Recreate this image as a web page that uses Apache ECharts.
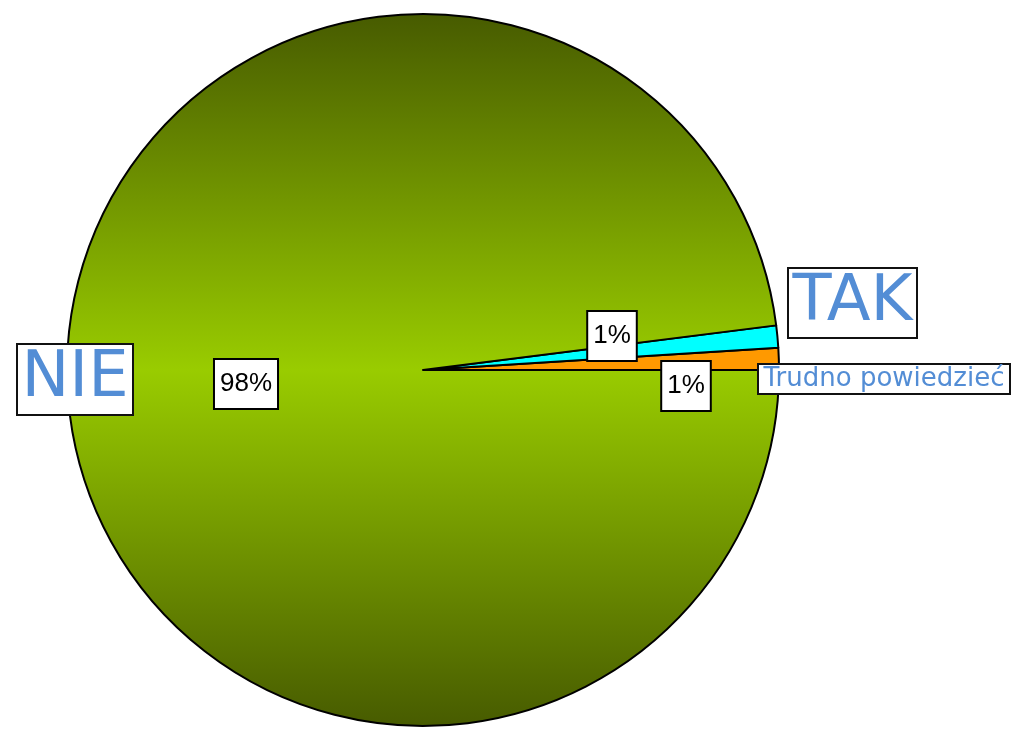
<!DOCTYPE html>
<html>
<head>
<meta charset="utf-8">
<script src="https://cdn.jsdelivr.net/npm/echarts@6/dist/echarts.min.js"></script>
<style>
  html, body { margin: 0; padding: 0; background: #fff; }
  #chart { width: 1012px; height: 733px; }
</style>
</head>
<body>
<div id="chart"></div>
<script>
// Answers, listed counter-clockwise from 3 o'clock
const categories = ['Trudno powiedzieć', 'TAK', 'NIE'];
const values = [1, 1, 98];
const sliceColors = ['#ff9900', '#00ffff', null];

// Pie geometry
const center = [423, 370];
const radius = 356;

// Green body of the pie: dark olive at the rim, bright lime across the middle
const limeGradient = new echarts.graphic.LinearGradient(0, 0, 0, 1, [
  { offset: 0, color: '#475b00' },
  { offset: 0.5, color: '#99cc00' },
  { offset: 1, color: '#475b00' }
]);

const pieData = categories.map((name, i) => ({
  name: name,
  value: values[i],
  itemStyle: { color: sliceColors[i] || limeGradient }
}));

// Where the percentage boxes sit (centre points)
const pctSpot = { 0: [686, 386], 1: [612, 336], 2: [246, 384] };

// Category name boxes: left, top, width, height, font size
const nameBox = [
  { box: [758, 364, 252, 30], size: 26 },
  { box: [788, 268, 129, 70], size: 64 },
  { box: [17, 344, 116, 71], size: 64 }
];

// Each name is a framed white box with the blue caption centred inside
const nameLabels = [];
categories.forEach((name, i) => {
  const [x, y, w, h] = nameBox[i].box;
  nameLabels.push({
    type: 'rect',
    z: 100,
    silent: true,
    shape: { x: x, y: y, width: w, height: h },
    style: { fill: '#fff', stroke: '#111', lineWidth: 2 }
  });
  nameLabels.push({
    type: 'text',
    z: 101,
    silent: true,
    x: x + w / 2,
    y: y + h / 2,
    style: {
      text: name,
      fontFamily: 'DejaVu Sans',
      fontSize: nameBox[i].size,
      fill: '#538dd5',
      align: 'center',
      verticalAlign: 'middle'
    }
  });
});

const chart = echarts.init(document.getElementById('chart'), null, { renderer: 'canvas' });

chart.setOption({
  animation: false,
  backgroundColor: '#ffffff',
  graphic: { elements: nameLabels },
  series: [
    {
      type: 'pie',
      center: center,
      radius: radius,
      startAngle: 0,
      clockwise: false,
      avoidLabelOverlap: false,
      silent: true,
      itemStyle: { borderColor: '#000', borderWidth: 2 },
      label: {
        show: true,
        position: 'inside',
        formatter: (p) => Math.round(p.percent) + '%',
        fontFamily: 'Liberation Sans',
        fontSize: 26,
        lineHeight: 28,
        color: '#000',
        backgroundColor: '#fff',
        borderColor: '#000',
        borderWidth: 2,
        padding: [10, 5],
        overflow: 'none'
      },
      labelLine: { show: false },
      labelLayout: (p) => {
        const s = pctSpot[p.dataIndex];
        return { x: s[0], y: s[1], align: 'center', verticalAlign: 'middle' };
      },
      data: pieData
    }
  ]
});
</script>
</body>
</html>
